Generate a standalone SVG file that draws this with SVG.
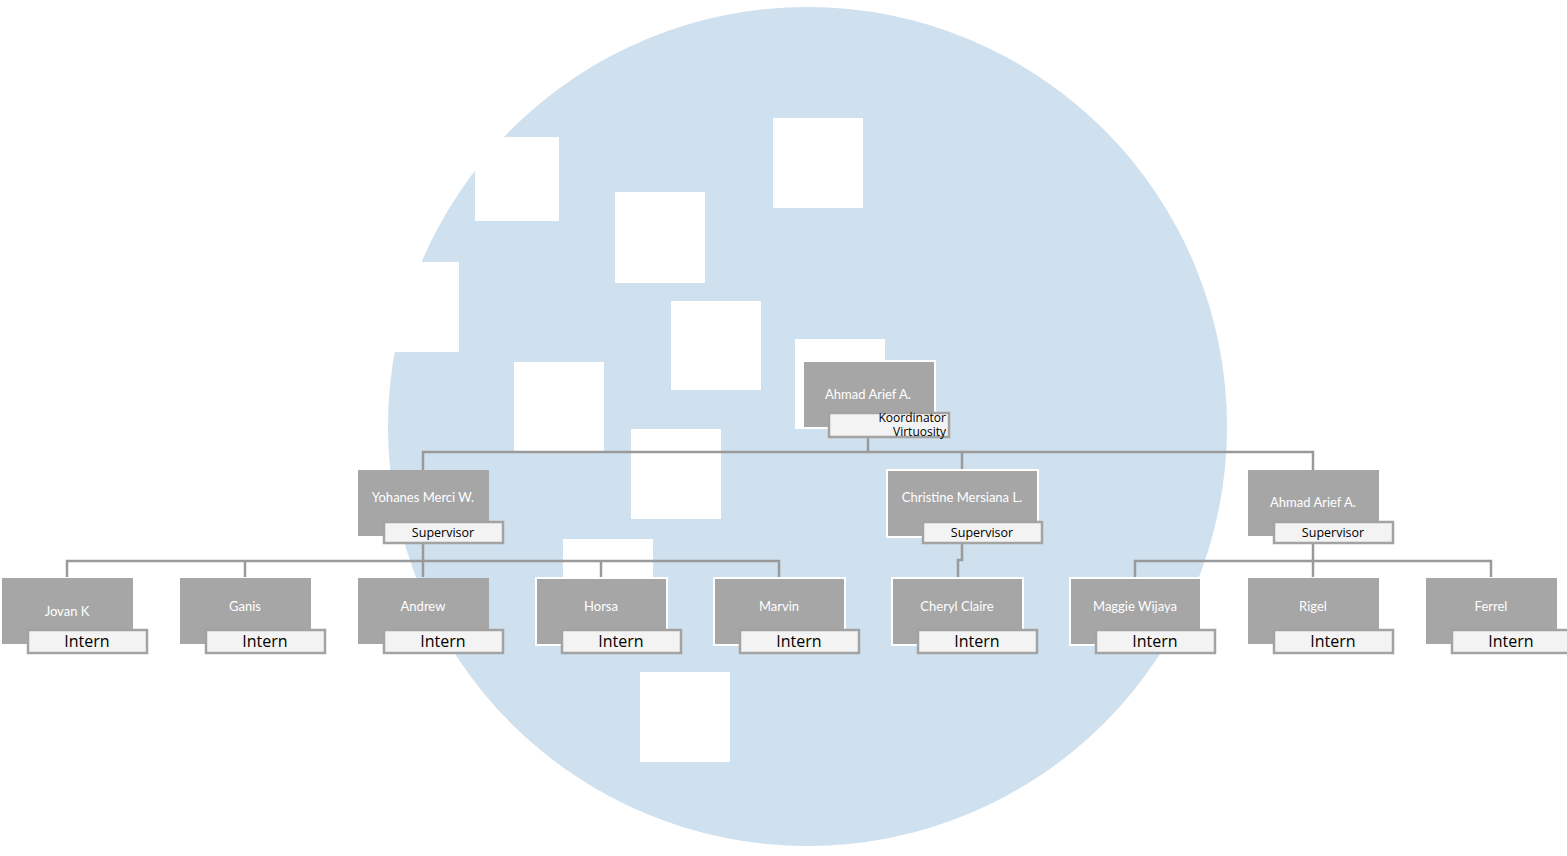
<svg xmlns="http://www.w3.org/2000/svg" width="1567" height="856" viewBox="0 0 1567 856">
<style>
.bg{fill:#cfe0ee}
.sq{fill:#ffffff}
.box{fill:#a6a6a6}
.bw{fill:#a6a6a6;stroke:#ffffff;stroke-width:2}
.lbl{fill:#f3f3f3;stroke:#a3a3a3;stroke-width:2.5}
.nm{font-family:Lato,"Open Sans",sans-serif;font-size:13px;fill:#ffffff;text-anchor:middle}
.sv{font-family:"Open Sans","Noto Sans",sans-serif;font-size:12.5px;fill:#000000;text-anchor:middle}
.it{font-family:"Open Sans","Noto Sans",sans-serif;font-size:16px;fill:#000000;text-anchor:middle}
.kr{font-family:"Open Sans","Noto Sans",sans-serif;font-size:12px;fill:#000000;text-anchor:end}
.cn{fill:none;stroke:#9a9a9a;stroke-width:2.5}
</style>
<rect x="0" y="0" width="1567" height="856" fill="#ffffff"/>
<circle class="bg" cx="807.5" cy="426.5" r="419.5"/>
<g id="squares">
<rect class="sq" x="475" y="137" width="84" height="84"/>
<rect class="sq" x="615" y="192" width="90" height="91"/>
<rect class="sq" x="773" y="118" width="90" height="90"/>
<rect class="sq" x="671" y="301" width="90" height="89"/>
<rect class="sq" x="369" y="262" width="90" height="90"/>
<rect class="sq" x="514" y="362" width="90" height="90"/>
<rect class="sq" x="631" y="429" width="90" height="90"/>
<rect class="sq" x="795" y="339" width="90" height="90"/>
<rect class="sq" x="563" y="539" width="90" height="90"/>
<rect class="sq" x="640" y="672" width="90" height="90"/>
</g>
<g id="connectors">
<path class="cn" d="M868 428 V452 M423 470 V452 H1313 V470 M962 452 V470"/>
<path class="cn" d="M423 543 V561 M67 577 V561 H779 V577 M245 561 V577 M423 561 V577 M601 561 V577"/>
<path class="cn" d="M962 543 V560 H958 V577"/>
<path class="cn" d="M1313 543 V561 M1135 577 V561 H1491 V577 M1313 561 V577"/>
</g>
<g id="n-ahmad1">
<rect class="bw" x="803" y="361" width="132" height="67"/>
<text class="nm" x="868" y="399">Ahmad Arief A.</text>
<rect class="lbl" x="829" y="413" width="120" height="24"/>
<text class="kr" x="946" y="422">Koordinator</text>
<text class="kr" x="946" y="436">Virtuosity</text>
</g>
<g id="n-yohanes">
<rect class="box" x="358" y="470" width="131" height="66"/>
<text class="nm" x="423" y="502">Yohanes Merci W.</text>
<rect class="lbl" x="384" y="522" width="119" height="21"/>
<text class="sv" x="443" y="537">Supervisor</text>
</g>
<g id="n-christine">
<rect class="bw" x="887" y="470" width="151" height="67"/>
<text class="nm" x="962" y="502">Christine Mersiana L.</text>
<rect class="lbl" x="923" y="522" width="119" height="21"/>
<text class="sv" x="982" y="537">Supervisor</text>
</g>
<g id="n-ahmad2">
<rect class="box" x="1248" y="470" width="131" height="66"/>
<text class="nm" x="1313" y="507">Ahmad Arief A.</text>
<rect class="lbl" x="1274" y="522" width="119" height="21"/>
<text class="sv" x="1333" y="537">Supervisor</text>
</g>
<g id="n-jovan">
<rect class="box" x="2" y="578" width="131" height="66"/>
<text class="nm" x="67" y="616">Jovan K</text>
<rect class="lbl" x="28" y="630" width="119" height="23"/>
<text class="it" x="87" y="647">Intern</text>
</g>
<g id="n-ganis">
<rect class="box" x="180" y="578" width="131" height="66"/>
<text class="nm" x="245" y="611">Ganis</text>
<rect class="lbl" x="206" y="630" width="119" height="23"/>
<text class="it" x="265" y="647">Intern</text>
</g>
<g id="n-andrew">
<rect class="box" x="358" y="578" width="131" height="66"/>
<text class="nm" x="423" y="611">Andrew</text>
<rect class="lbl" x="384" y="630" width="119" height="23"/>
<text class="it" x="443" y="647">Intern</text>
</g>
<g id="n-horsa">
<rect class="bw" x="536" y="578" width="131" height="67"/>
<text class="nm" x="601" y="611">Horsa</text>
<rect class="lbl" x="562" y="630" width="119" height="23"/>
<text class="it" x="621" y="647">Intern</text>
</g>
<g id="n-marvin">
<rect class="bw" x="714" y="578" width="131" height="67"/>
<text class="nm" x="779" y="611">Marvin</text>
<rect class="lbl" x="740" y="630" width="119" height="23"/>
<text class="it" x="799" y="647">Intern</text>
</g>
<g id="n-cheryl">
<rect class="bw" x="892" y="578" width="131" height="67"/>
<text class="nm" x="957" y="611">Cheryl Claire</text>
<rect class="lbl" x="918" y="630" width="119" height="23"/>
<text class="it" x="977" y="647">Intern</text>
</g>
<g id="n-maggie">
<rect class="bw" x="1070" y="578" width="131" height="67"/>
<text class="nm" x="1135" y="611">Maggie Wijaya</text>
<rect class="lbl" x="1096" y="630" width="119" height="23"/>
<text class="it" x="1155" y="647">Intern</text>
</g>
<g id="n-rigel">
<rect class="box" x="1248" y="578" width="131" height="66"/>
<text class="nm" x="1313" y="611">Rigel</text>
<rect class="lbl" x="1274" y="630" width="119" height="23"/>
<text class="it" x="1333" y="647">Intern</text>
</g>
<g id="n-ferrel">
<rect class="box" x="1426" y="578" width="131" height="66"/>
<text class="nm" x="1491" y="611">Ferrel</text>
<rect class="lbl" x="1452" y="630" width="119" height="23"/>
<text class="it" x="1511" y="647">Intern</text>
</g>
</svg>
